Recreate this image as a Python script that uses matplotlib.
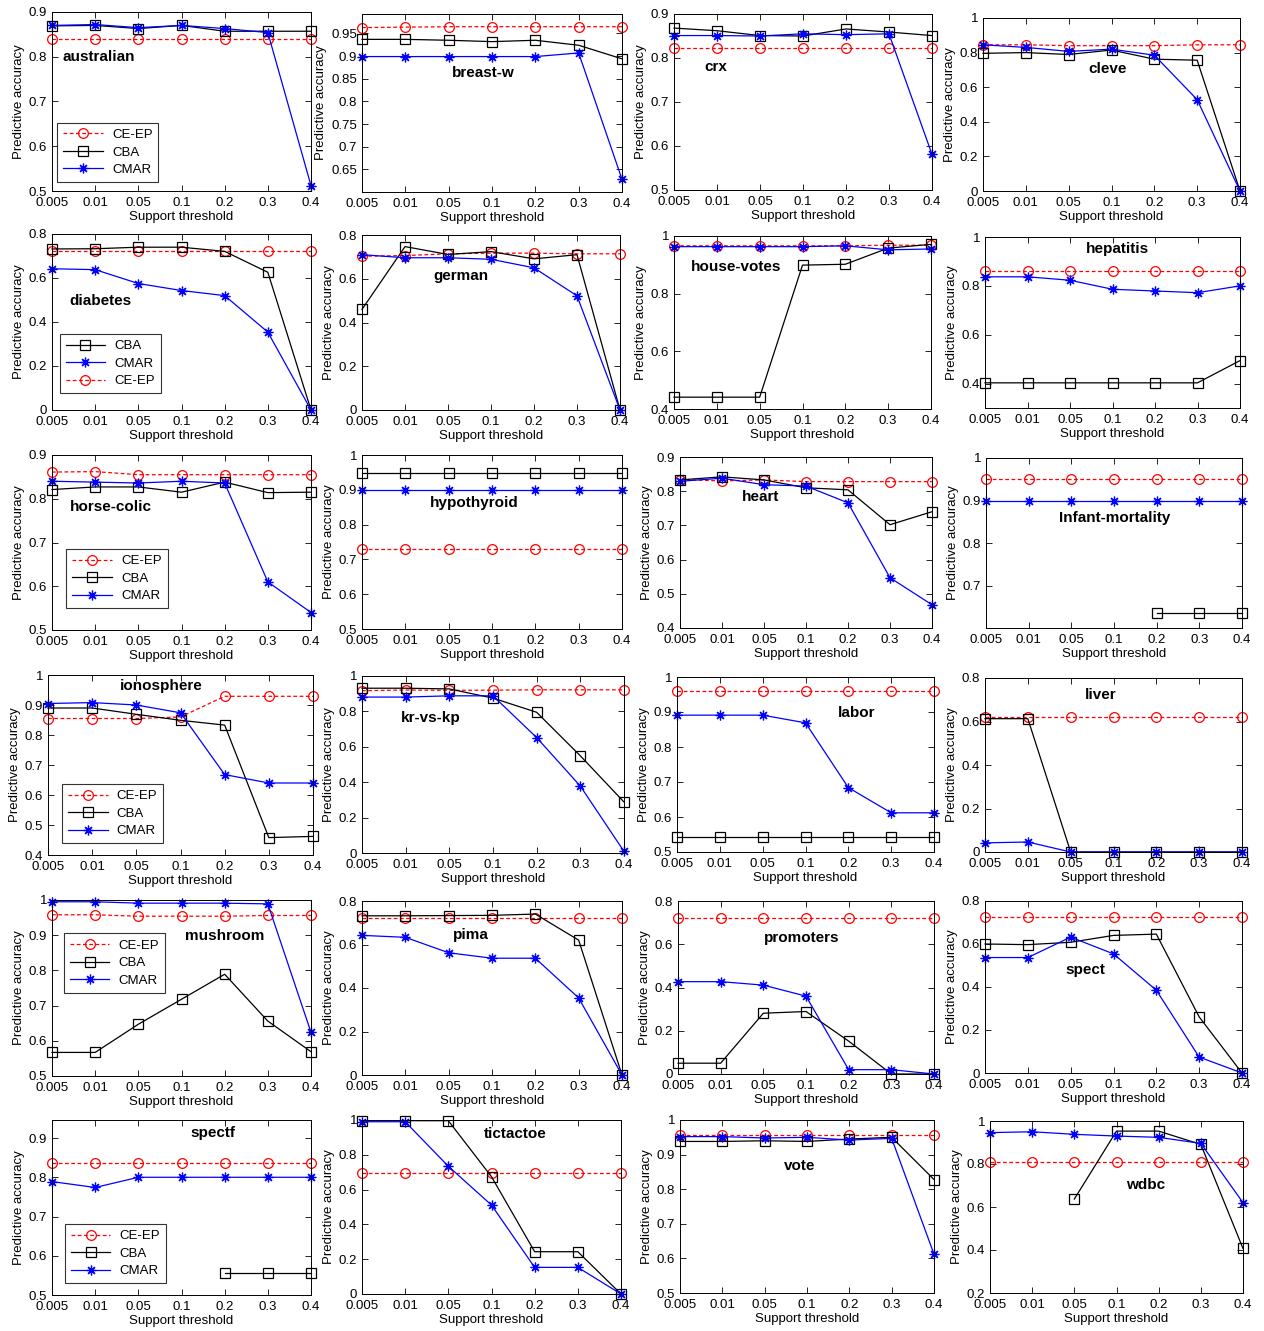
import numpy as np
import matplotlib
matplotlib.use('Agg')
import matplotlib.pyplot as plt

plt.rcParams['font.family'] = ['Liberation Sans', 'DejaVu Sans']

nan = float('nan')

support_labels = ['0.005', '0.01', '0.05', '0.1', '0.2', '0.3', '0.4']

datasets = ['australian', 'breast-w', 'crx', 'cleve',
            'diabetes', 'german', 'house-votes', 'hepatitis',
            'horse-colic', 'hypothyroid', 'heart', 'Infant-mortality',
            'ionosphere', 'kr-vs-kp', 'labor', 'liver',
            'mushroom', 'pima', 'promoters', 'spect',
            'spectf', 'tictactoe', 'vote', 'wdbc']

ce_ep = {
    'australian': [0.840, 0.840, 0.840, 0.840, 0.840, 0.840, 0.840],
    'breast-w': [0.963, 0.964, 0.965, 0.965, 0.965, 0.965, 0.965],
    'crx': [0.822, 0.822, 0.822, 0.822, 0.822, 0.822, 0.822],
    'cleve': [0.845, 0.845, 0.840, 0.840, 0.840, 0.845, 0.845],
    'diabetes': [0.722, 0.722, 0.722, 0.722, 0.722, 0.722, 0.722],
    'german': [0.703, 0.706, 0.714, 0.717, 0.717, 0.714, 0.714],
    'house-votes': [0.966, 0.966, 0.966, 0.966, 0.966, 0.968, 0.968],
    'hepatitis': [0.859, 0.859, 0.859, 0.859, 0.859, 0.859, 0.859],
    'horse-colic': [0.861, 0.862, 0.855, 0.855, 0.855, 0.855, 0.855],
    'hypothyroid': [0.729, 0.729, 0.729, 0.729, 0.729, 0.729, 0.729],
    'heart': [0.834, 0.830, 0.833, 0.828, 0.828, 0.828, 0.828],
    'Infant-mortality': [0.951, 0.951, 0.951, 0.951, 0.951, 0.951, 0.951],
    'ionosphere': [0.855, 0.855, 0.855, 0.860, 0.929, 0.929, 0.929],
    'kr-vs-kp': [0.917, 0.921, 0.919, 0.920, 0.922, 0.922, 0.922],
    'labor': [0.959, 0.959, 0.959, 0.959, 0.959, 0.959, 0.959],
    'liver': [0.622, 0.622, 0.622, 0.622, 0.622, 0.622, 0.622],
    'mushroom': [0.958, 0.958, 0.954, 0.954, 0.954, 0.956, 0.956],
    'pima': [0.722, 0.722, 0.722, 0.722, 0.722, 0.722, 0.722],
    'promoters': [0.722, 0.722, 0.722, 0.722, 0.722, 0.722, 0.722],
    'spect': [0.727, 0.727, 0.727, 0.727, 0.727, 0.727, 0.727],
    'spectf': [0.836, 0.836, 0.836, 0.836, 0.836, 0.836, 0.836],
    'tictactoe': [0.693, 0.693, 0.693, 0.693, 0.693, 0.693, 0.693],
    'vote': [0.958, 0.958, 0.958, 0.958, 0.958, 0.958, 0.958],
    'wdbc': [0.808, 0.808, 0.808, 0.808, 0.808, 0.808, 0.808],
}

cba = {
    'australian': [0.869, 0.870, 0.863, 0.870, 0.857, 0.857, 0.857],
    'breast-w': [0.937, 0.937, 0.935, 0.932, 0.935, 0.924, 0.894],
    'crx': [0.868, 0.862, 0.851, 0.850, 0.866, 0.859, 0.851],
    'cleve': [0.796, 0.800, 0.789, 0.815, 0.762, 0.756, 0.0],
    'diabetes': [0.732, 0.733, 0.740, 0.740, 0.721, 0.626, 0.0],
    'german': [0.460, 0.747, 0.711, 0.724, 0.691, 0.710, 0.0],
    'house-votes': [0.441, 0.441, 0.441, 0.899, 0.902, 0.958, 0.971],
    'hepatitis': [0.403, 0.403, 0.403, 0.403, 0.403, 0.403, 0.494],
    'horse-colic': [0.821, 0.827, 0.827, 0.815, 0.838, 0.814, 0.815],
    'hypothyroid': [0.948, 0.948, 0.948, 0.948, 0.948, 0.948, 0.948],
    'heart': [0.833, 0.842, 0.833, 0.810, 0.804, 0.702, 0.740],
    'Infant-mortality': [nan, nan, nan, nan, 0.636, 0.636, 0.636],
    'ionosphere': [0.890, 0.890, 0.869, 0.849, 0.833, 0.458, 0.462],
    'kr-vs-kp': [0.931, 0.931, 0.927, 0.875, 0.795, 0.549, 0.288],
    'labor': [0.543, 0.543, 0.543, 0.543, 0.543, 0.543, 0.543],
    'liver': [0.613, 0.613, 0.0, 0.0, 0.0, 0.0, 0.0],
    'mushroom': [0.567, 0.567, 0.647, 0.718, 0.789, 0.656, 0.569],
    'pima': [0.732, 0.732, 0.733, 0.734, 0.740, 0.620, 0.0],
    'promoters': [0.050, 0.050, 0.281, 0.289, 0.152, 0.0, 0.0],
    'spect': [0.600, 0.597, 0.608, 0.640, 0.646, 0.261, 0.0],
    'spectf': [nan, nan, nan, nan, 0.557, 0.557, 0.557],
    'tictactoe': [0.996, 0.996, 0.996, 0.674, 0.243, 0.243, 0.0],
    'vote': [0.938, 0.938, 0.940, 0.938, 0.945, 0.950, 0.828],
    'wdbc': [nan, nan, 0.637, 0.953, 0.953, 0.891, 0.407],
}

cmar = {
    'australian': [0.870, 0.872, 0.865, 0.870, 0.863, 0.854, 0.512],
    'breast-w': [0.899, 0.899, 0.899, 0.899, 0.899, 0.907, 0.628],
    'crx': [0.851, 0.851, 0.850, 0.855, 0.853, 0.855, 0.581],
    'cleve': [0.845, 0.830, 0.807, 0.820, 0.785, 0.528, 0.0],
    'diabetes': [0.642, 0.638, 0.575, 0.543, 0.520, 0.354, 0.0],
    'german': [0.710, 0.696, 0.696, 0.689, 0.650, 0.522, 0.0],
    'house-votes': [0.963, 0.963, 0.963, 0.963, 0.966, 0.952, 0.955],
    'hepatitis': [0.837, 0.837, 0.823, 0.786, 0.779, 0.772, 0.800],
    'horse-colic': [0.840, 0.838, 0.836, 0.840, 0.836, 0.610, 0.540],
    'hypothyroid': [0.900, 0.900, 0.900, 0.900, 0.900, 0.900, 0.900],
    'heart': [0.829, 0.838, 0.819, 0.815, 0.766, 0.547, 0.468],
    'Infant-mortality': [0.900, 0.900, 0.900, 0.900, 0.900, 0.900, 0.900],
    'ionosphere': [0.905, 0.908, 0.900, 0.874, 0.668, 0.640, 0.640],
    'kr-vs-kp': [0.881, 0.881, 0.888, 0.888, 0.652, 0.378, 0.009],
    'labor': [0.891, 0.891, 0.891, 0.869, 0.684, 0.612, 0.612],
    'liver': [0.042, 0.046, 0.0, 0.0, 0.0, 0.0, 0.0],
    'mushroom': [0.995, 0.995, 0.991, 0.991, 0.991, 0.989, 0.624],
    'pima': [0.642, 0.633, 0.562, 0.537, 0.537, 0.354, 0.0],
    'promoters': [0.427, 0.427, 0.411, 0.360, 0.020, 0.020, 0.0],
    'spect': [0.537, 0.537, 0.632, 0.554, 0.385, 0.074, 0.0],
    'spectf': [0.789, 0.774, 0.800, 0.800, 0.800, 0.800, 0.800],
    'tictactoe': [0.990, 0.990, 0.734, 0.511, 0.153, 0.153, 0.0],
    'vote': [0.952, 0.952, 0.948, 0.950, 0.942, 0.947, 0.612],
    'wdbc': [0.946, 0.950, 0.938, 0.930, 0.924, 0.896, 0.620],
}

# y-axis limits and ticks per panel
ylims = {
    'australian': (0.5, 0.9, [0.5, 0.6, 0.7, 0.8, 0.9]),
    'breast-w': (0.6, 0.993, [0.65, 0.7, 0.75, 0.8, 0.85, 0.9, 0.95]),
    'crx': (0.5, 0.9, [0.5, 0.6, 0.7, 0.8, 0.9]),
    'cleve': (0.0, 1.0, [0, 0.2, 0.4, 0.6, 0.8, 1]),
    'diabetes': (0.0, 0.8, [0, 0.2, 0.4, 0.6, 0.8]),
    'german': (0.0, 0.8, [0, 0.2, 0.4, 0.6, 0.8]),
    'house-votes': (0.4, 1.0, [0.4, 0.6, 0.8, 1]),
    'hepatitis': (0.3, 1.0, [0.4, 0.6, 0.8, 1]),
    'horse-colic': (0.5, 0.9, [0.5, 0.6, 0.7, 0.8, 0.9]),
    'hypothyroid': (0.5, 1.0, [0.5, 0.6, 0.7, 0.8, 0.9, 1]),
    'heart': (0.4, 0.9, [0.4, 0.5, 0.6, 0.7, 0.8, 0.9]),
    'Infant-mortality': (0.6, 1.0, [0.7, 0.8, 0.9, 1]),
    'ionosphere': (0.4, 1.0, [0.4, 0.5, 0.6, 0.7, 0.8, 0.9, 1]),
    'kr-vs-kp': (0.0, 1.0, [0, 0.2, 0.4, 0.6, 0.8, 1]),
    'labor': (0.5, 1.0, [0.5, 0.6, 0.7, 0.8, 0.9, 1]),
    'liver': (0.0, 0.8, [0, 0.2, 0.4, 0.6, 0.8]),
    'mushroom': (0.5, 1.0, [0.5, 0.6, 0.7, 0.8, 0.9, 1]),
    'pima': (0.0, 0.8, [0, 0.2, 0.4, 0.6, 0.8]),
    'promoters': (0.0, 0.8, [0, 0.2, 0.4, 0.6, 0.8]),
    'spect': (0.0, 0.8, [0, 0.2, 0.4, 0.6, 0.8]),
    'spectf': (0.5, 0.946, [0.5, 0.6, 0.7, 0.8, 0.9]),
    'tictactoe': (0.0, 1.0, [0, 0.2, 0.4, 0.6, 0.8, 1]),
    'vote': (0.5, 1.0, [0.5, 0.6, 0.7, 0.8, 0.9, 1]),
    'wdbc': (0.2, 1.0, [0.2, 0.4, 0.6, 0.8, 1]),
}

# axes boxes in pixels: left, top, right, bottom
boxes = {
    'australian': (52, 12, 311, 191), 'breast-w': (362, 14, 622, 192),
    'crx': (674, 14, 932, 190), 'cleve': (983, 18, 1240, 191),
    'diabetes': (52, 234, 311, 410), 'german': (362, 235, 620, 410),
    'house-votes': (674, 236, 931, 409), 'hepatitis': (985, 237, 1240, 408),
    'horse-colic': (52, 455, 311, 630), 'hypothyroid': (362, 455, 622, 629),
    'heart': (680, 457, 932, 628), 'Infant-mortality': (986, 458, 1242, 628),
    'ionosphere': (48, 675, 313, 855), 'kr-vs-kp': (362, 676, 624, 853),
    'labor': (677, 677, 934, 852), 'liver': (985, 678, 1242, 852),
    'mushroom': (52, 900, 311, 1076), 'pima': (362, 901, 622, 1075),
    'promoters': (678, 901, 934, 1074), 'spect': (985, 901, 1242, 1073),
    'spectf': (52, 1120, 311, 1295), 'tictactoe': (362, 1120, 621, 1294),
    'vote': (680, 1120, 934, 1293), 'wdbc': (990, 1121, 1243, 1293),
}

# in-axes label positions (axes fraction, centre)
name_pos = {
    'australian': (0.18, 0.75), 'breast-w': (0.465, 0.67), 'crx': (0.163, 0.70),
    'cleve': (0.483, 0.705), 'diabetes': (0.186, 0.62), 'german': (0.384, 0.766),
    'house-votes': (0.241, 0.82), 'hepatitis': (0.52, 0.93), 'horse-colic': (0.228, 0.70),
    'hypothyroid': (0.43, 0.724), 'heart': (0.318, 0.766), 'Infant-mortality': (0.504, 0.647),
    'ionosphere': (0.426, 0.94), 'kr-vs-kp': (0.263, 0.763), 'labor': (0.70, 0.794),
    'liver': (0.451, 0.90), 'mushroom': (0.668, 0.795), 'pima': (0.42, 0.805),
    'promoters': (0.484, 0.786), 'spect': (0.39, 0.60), 'spectf': (0.62, 0.926),
    'tictactoe': (0.59, 0.92), 'vote': (0.472, 0.734), 'wdbc': (0.617, 0.628),
}

# legends: (loc, anchor, order)
legends = {
    'australian': ('lower left', (0.02, 0.05), ['CE-EP', 'CBA', 'CMAR']),
    'diabetes': ('lower left', (0.03, 0.095), ['CBA', 'CMAR', 'CE-EP']),
    'horse-colic': ('lower left', (0.055, 0.125), ['CE-EP', 'CBA', 'CMAR']),
    'ionosphere': ('lower left', (0.053, 0.065), ['CE-EP', 'CBA', 'CMAR']),
    'mushroom': ('upper left', (0.046, 0.81), ['CE-EP', 'CBA', 'CMAR']),
    'spectf': ('lower left', (0.05, 0.068), ['CE-EP', 'CBA', 'CMAR']),
}

W, H = 1264, 1331
fig = plt.figure(figsize=(W / 100, H / 100), dpi=100)

x = np.arange(len(support_labels))
asterisk = (8, 2, 0)


def fmt(v):
    return ('%g' % v)


for name in datasets:
    l, t, r, b = boxes[name]
    ax = fig.add_axes([l / W, 1 - b / H, (r - l) / W, (b - t) / H])
    handles = {}
    handles['CE-EP'], = ax.plot(x, ce_ep[name], color='#ff0000', linestyle='--', linewidth=0.9,
                                marker='o', markersize=7, markerfacecolor='none',
                                markeredgewidth=0.9, clip_on=False, label='CE-EP', dashes=(3, 2))
    handles['CBA'], = ax.plot(x, cba[name], color='black', linestyle='-', linewidth=0.9,
                              marker='s', markersize=7.5, markerfacecolor='none',
                              markeredgewidth=0.9, clip_on=False, label='CBA')
    handles['CMAR'], = ax.plot(x, cmar[name], color='#0000ff', linestyle='-', linewidth=0.9,
                               marker=asterisk, markersize=7, markeredgewidth=0.9,
                               clip_on=False, label='CMAR')
    y0, y1, yt = ylims[name]
    ax.set_xlim(0, len(support_labels) - 1)
    ax.set_ylim(y0, y1)
    ax.set_xticks(x)
    ax.set_xticklabels(support_labels)
    ax.set_yticks(yt)
    ax.set_yticklabels([fmt(v) for v in yt])
    ax.tick_params(direction='in', top=True, right=True, length=4, width=0.6,
                   labelsize=9.5)
    ax.tick_params(axis='x', pad=4)
    ax.tick_params(axis='y', pad=3.5)
    for s in ax.spines.values():
        s.set_linewidth(0.7)
    ax.set_xlabel('Support threshold', fontsize=9.5, labelpad=2)
    ax.set_ylabel('Predictive accuracy', fontsize=9.5, labelpad=3)
    px, py = name_pos[name]
    ax.text(px, py, name, transform=ax.transAxes, fontsize=11, fontweight='bold',
            ha='center', va='center')
    if name in legends:
        loc, anchor, order = legends[name]
        leg = ax.legend([handles[k] for k in order], order, loc=loc, bbox_to_anchor=anchor,
                        fontsize=9.5, frameon=True, fancybox=False, edgecolor='black',
                        handlelength=3.0, borderpad=0.45, labelspacing=0.4,
                        handletextpad=0.7, borderaxespad=0)
        leg.get_frame().set_linewidth(0.8)

fig.savefig('out.png', dpi=100)
